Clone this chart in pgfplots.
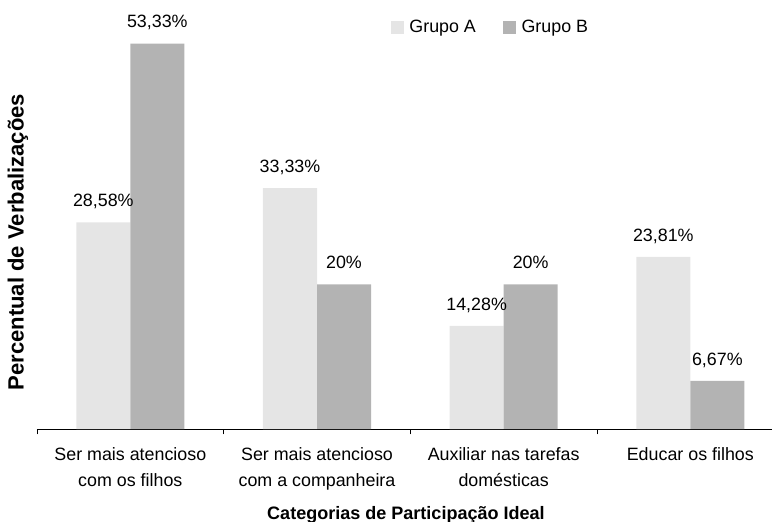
\documentclass[border=0pt]{standalone}
\usepackage{fontspec}
\setmainfont{Liberation Sans}
\usepackage{pgfplots}
\pgfplotsset{compat=1.18}

\definecolor{grupoA}{RGB}{229,229,229}
\definecolor{grupoB}{RGB}{179,179,179}

\begin{document}
\begin{tikzpicture}
\begin{axis}[
    at={(0,0)}, anchor=south west,
    width=420pt, height=239.5pt,
    scale only axis,
    ybar=0pt,
    bar width=30.86pt,
    xmin=-0.5, xmax=3.4375,
    ymin=0, ymax=58,
    axis x line=bottom,
    axis y line=left,
    axis line style={-, black},
    y axis line style={draw=none},
    xtick={0,1,2,3},
    xticklabels={Ser mais atencioso\\com os filhos,
                 Ser mais atencioso\\com a companheira,
                 Auxiliar nas tarefas\\domésticas,
                 Educar os filhos},
    major x tick style={draw=none},
    minor xtick={-0.5,0.5,1.5,2.5},
    minor tick length=3pt,
    minor x tick style={black},
    tick align=outside,
    xticklabel style={align=center, font=\fontsize{10.2}{14.9}\selectfont, yshift=-2.8pt},
    ytick=\empty,
    xlabel={Categorias de Participação Ideal},
    xlabel style={at={(axis description cs:0.502,-0.205)}, anchor=center,
                  font=\fontsize{10.3}{12}\selectfont\bfseries},
    ylabel={Percentual de Verbalizações},
    ylabel style={at={(axis description cs:-0.026,0.446)}, anchor=center,
                  font=\fontsize{12.6}{14}\selectfont\bfseries},
    nodes near coords,
    point meta=explicit symbolic,
    every node near coord/.append style={anchor=base, yshift=9pt, font=\fontsize{10.2}{12}\selectfont, black},
    legend columns=2,
    legend style={draw=none, fill=none, at={(axis description cs:0.618,0.957)}, anchor=center,
                  font=\fontsize{10.2}{12}\selectfont,
                  /tikz/every even column/.append style={column sep=13.5pt}},
    legend image code/.code={\fill[#1] (0pt,-3.7pt) rectangle (7.4pt,3.7pt); \path (8.6pt,0pt);},
]
\addplot[draw=none, fill=grupoA] coordinates {
    (0,28.58) [{28,58\%}]
    (1,33.33) [{33,33\%}]
    (2,14.28) [{14,28\%}]
    (3,23.81) [{23,81\%}]
};
\addlegendentry{Grupo A}
\addplot[draw=none, fill=grupoB] coordinates {
    (0,53.33) [{53,33\%}]
    (1,20) [{20\%}]
    (2,20) [{20\%}]
    (3,6.67) [{6,67\%}]
};
\addlegendentry{Grupo B}
\end{axis}
\pgfresetboundingbox
\path[use as bounding box] (-21.14pt,-52.57pt) rectangle (420pt,245.14pt);
\end{tikzpicture}
\end{document}
